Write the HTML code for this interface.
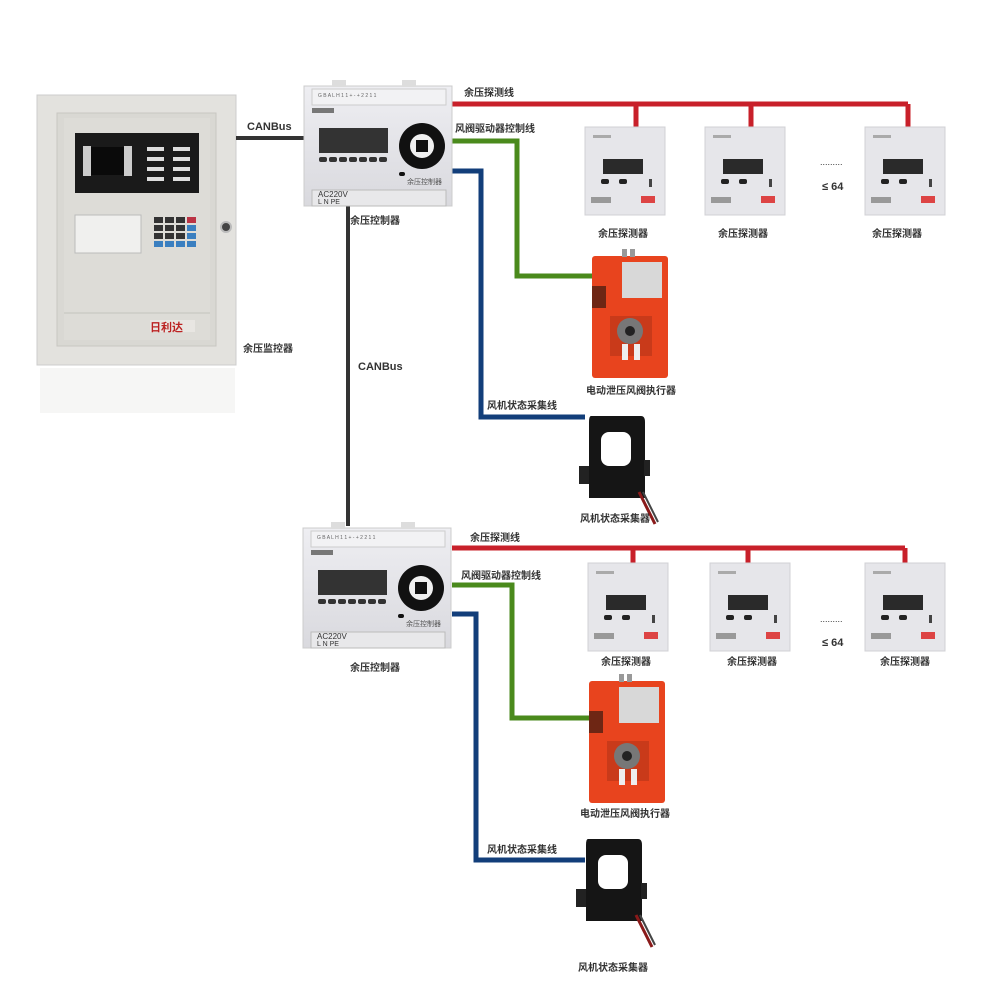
<!DOCTYPE html>
<html><head><meta charset="utf-8"><style>
html,body{margin:0;padding:0;background:#fff;width:1000px;height:982px;overflow:hidden}
svg{display:block}
text{font-family:"Liberation Sans","Noto Sans CJK SC",sans-serif;fill:#333}
.l{font-size:11px;font-weight:bold}
</style></head><body>
<svg width="1000" height="982" viewBox="0 0 1000 982" xmlns="http://www.w3.org/2000/svg">
<defs>
<linearGradient id="ctl" x1="0" y1="0" x2="0" y2="1"><stop offset="0" stop-color="#eeeef2"/><stop offset="1" stop-color="#d9d9de"/></linearGradient>
<g id="det">
<rect x="0" y="0" width="80" height="88" fill="#e6e6ea" stroke="#d0d0d4"/>
<rect x="18" y="32" width="40" height="15" fill="#2a2a2a"/>
<rect x="16" y="52" width="8" height="5" rx="2" fill="#222"/>
<rect x="34" y="52" width="8" height="5" rx="2" fill="#222"/>
<rect x="64" y="52" width="3" height="8" fill="#444"/>
<rect x="6" y="70" width="20" height="6" fill="#999"/>
<rect x="56" y="69" width="14" height="7" fill="#d44"/>
<rect x="8" y="8" width="18" height="3" fill="#aaa"/>
</g>
<g id="ctrl">
<rect x="0" y="0" width="148" height="120" fill="url(#ctl)" stroke="#ccc"/>
<rect x="28" y="-6" width="14" height="7" fill="#ddd"/><rect x="98" y="-6" width="14" height="7" fill="#ddd"/>
<rect x="8" y="3" width="134" height="16" fill="#f2f2f4" stroke="#ccc"/>
<rect x="8" y="22" width="22" height="5" fill="#777"/>
<rect x="15" y="42" width="69" height="25" fill="#333"/>
<g fill="#333"><rect x="15" y="71" width="8" height="5" rx="2"/><rect x="25" y="71" width="8" height="5" rx="2"/><rect x="35" y="71" width="8" height="5" rx="2"/><rect x="45" y="71" width="8" height="5" rx="2"/><rect x="55" y="71" width="8" height="5" rx="2"/><rect x="65" y="71" width="8" height="5" rx="2"/><rect x="75" y="71" width="8" height="5" rx="2"/></g>
<circle cx="118" cy="60" r="23" fill="#111"/><circle cx="118" cy="60" r="12" fill="#f0f0f0"/><rect x="112" y="54" width="12" height="12" fill="#111"/>
<rect x="95" y="86" width="6" height="4" rx="2" fill="#111"/>
<rect x="8" y="104" width="134" height="16" fill="#e8e8ea" stroke="#bbb"/>
<text x="14" y="111" style="font-size:8px">AC220V</text><text x="14" y="118" style="font-size:7px">L  N  PE</text>
<text x="103" y="98" style="font-size:7px;fill:#555">余压控制器</text>
<text x="14" y="11" style="font-size:5px;fill:#666">G B A   L H   1 1 + - + 2 2 1 1</text>
</g>
<g id="act">
<rect x="0" y="0" width="76" height="122" rx="3" fill="#e8441e"/>
<rect x="30" y="-7" width="5" height="8" fill="#999"/><rect x="38" y="-7" width="5" height="8" fill="#999"/>
<rect x="30" y="6" width="40" height="36" fill="#d8d8d8"/>
<rect x="0" y="30" width="14" height="22" fill="#3a1a10" opacity=".7"/>
<rect x="18" y="60" width="42" height="40" fill="#c93a1a"/>
<circle cx="38" cy="75" r="13" fill="#777"/><circle cx="38" cy="75" r="5" fill="#222"/>
<rect x="30" y="88" width="6" height="16" fill="#eee"/><rect x="42" y="88" width="6" height="16" fill="#eee"/>
</g>
<g id="ct">
<path d="M8 0 H58 Q62 0 62 6 V82 H6 V6 Q6 0 8 0Z" fill="#151515"/>
<rect x="-4" y="50" width="10" height="18" fill="#222"/><rect x="61" y="44" width="6" height="16" fill="#222"/>
<rect x="18" y="16" width="30" height="34" rx="8" fill="#fff"/>
<path d="M56 76 L72 108" stroke="#8a1a1a" stroke-width="3"/>
<path d="M60 76 L75 106" stroke="#444" stroke-width="2"/>
</g>
</defs>

<!-- cabinet -->
<rect x="37" y="95" width="199" height="270" fill="#e3e2de" stroke="#ccc"/>
<rect x="57" y="113" width="159" height="233" fill="#d9d8d3" stroke="#c8c7c2"/>
<rect x="64" y="118" width="146" height="222" fill="#dddcd7"/>
<rect x="75" y="133" width="124" height="60" fill="#1a1a1a"/>
<rect x="83" y="146" width="8" height="30" fill="#ccc"/><rect x="124" y="146" width="8" height="30" fill="#ccc"/><rect x="91" y="147" width="33" height="28" fill="#0a0a0a"/>
<g fill="#ddd"><rect x="147" y="147" width="17" height="4"/><rect x="173" y="147" width="17" height="4"/><rect x="147" y="157" width="17" height="4"/><rect x="173" y="157" width="17" height="4"/><rect x="147" y="167" width="17" height="4"/><rect x="173" y="167" width="17" height="4"/><rect x="147" y="177" width="17" height="4"/><rect x="173" y="177" width="17" height="4"/></g>
<rect x="75" y="215" width="66" height="38" fill="#f0f0ee" stroke="#bbb"/>
<g fill="#333"><rect x="154" y="217" width="9" height="6"/><rect x="165" y="217" width="9" height="6"/><rect x="176" y="217" width="9" height="6"/><rect x="154" y="225" width="9" height="6"/><rect x="165" y="225" width="9" height="6"/><rect x="176" y="225" width="9" height="6"/><rect x="154" y="233" width="9" height="6"/><rect x="165" y="233" width="9" height="6"/><rect x="176" y="233" width="9" height="6"/></g>
<g fill="#3a7fc0"><rect x="187" y="225" width="9" height="6"/><rect x="187" y="233" width="9" height="6"/><rect x="154" y="241" width="9" height="6"/><rect x="165" y="241" width="9" height="6"/><rect x="176" y="241" width="9" height="6"/><rect x="187" y="241" width="9" height="6"/></g>
<rect x="187" y="217" width="9" height="6" fill="#b34"/>
<line x1="64" y1="313" x2="210" y2="313" stroke="#c4c3be"/>
<rect x="150" y="320" width="45" height="12" fill="#e8e6e2"/><text x="150" y="331" style="font-size:11px;fill:#b22;font-weight:bold">日利达</text>
<circle cx="226" cy="227" r="5" fill="#444" stroke="#bbb" stroke-width="2"/>
<rect x="40" y="368" width="195" height="45" fill="#f6f6f5"/>

<!-- connections group 1 -->
<line x1="236" y1="138" x2="305" y2="138" stroke="#333" stroke-width="4"/>
<line x1="348" y1="205" x2="348" y2="526" stroke="#333" stroke-width="4"/>
<polyline points="452,104 908,104" fill="none" stroke="#c8202a" stroke-width="5"/>
<g stroke="#c8202a" stroke-width="5"><line x1="636" y1="104" x2="636" y2="128"/><line x1="751" y1="104" x2="751" y2="128"/><line x1="908" y1="104" x2="908" y2="128"/></g>
<polyline points="452,141 517,141 517,276 592,276" fill="none" stroke="#4a8a1c" stroke-width="5"/>
<polyline points="452,171 481,171 481,417 585,417" fill="none" stroke="#123e7a" stroke-width="5"/>
<use href="#ctrl" x="304" y="86"/>
<use href="#det" x="585" y="127"/><use href="#det" x="705" y="127"/><use href="#det" x="865" y="127"/>
<use href="#act" x="592" y="256"/>
<use href="#ct" x="583" y="416"/>
<text class="l" x="247" y="130">CANBus</text>
<text class="l" x="358" y="370">CANBus</text>
<text class="l" x="464" y="96" style="font-size:10px">余压探测线</text>
<text class="l" x="455" y="132" style="font-size:10px">风阀驱动器控制线</text>
<text class="l" x="487" y="409" style="font-size:10px">风机状态采集线</text>
<text class="l" x="350" y="224" style="font-size:10px">余压控制器</text>
<text class="l" x="243" y="352" style="font-size:10px">余压监控器</text>
<text class="l" x="598" y="237" style="font-size:10px">余压探测器</text>
<text class="l" x="718" y="237" style="font-size:10px">余压探测器</text>
<text class="l" x="872" y="237" style="font-size:10px">余压探测器</text>
<text x="820" y="165" style="font-size:9px">.........</text>
<text x="822" y="190" style="font-size:11px;font-weight:bold">≤ 64</text>
<text class="l" x="586" y="394" style="font-size:10px">电动泄压风阀执行器</text>
<text class="l" x="580" y="522" style="font-size:10px">风机状态采集器</text>

<!-- group 2 -->
<polyline points="452,548 905,548" fill="none" stroke="#c8202a" stroke-width="5"/>
<g stroke="#c8202a" stroke-width="5"><line x1="633" y1="548" x2="633" y2="564"/><line x1="748" y1="548" x2="748" y2="564"/><line x1="905" y1="548" x2="905" y2="564"/></g>
<polyline points="452,585 512,585 512,718 590,718" fill="none" stroke="#4a8a1c" stroke-width="5"/>
<polyline points="452,614 476,614 476,860 585,860" fill="none" stroke="#123e7a" stroke-width="5"/>
<use href="#ctrl" x="303" y="528"/>
<use href="#det" x="588" y="563" transform="translate(0,0)"/><use href="#det" x="710" y="563"/><use href="#det" x="865" y="563"/>
<use href="#act" x="589" y="681"/>
<use href="#ct" x="580" y="839"/>
<text class="l" x="470" y="541" style="font-size:10px">余压探测线</text>
<text class="l" x="461" y="579" style="font-size:10px">风阀驱动器控制线</text>
<text class="l" x="487" y="853" style="font-size:10px">风机状态采集线</text>
<text class="l" x="350" y="671" style="font-size:10px">余压控制器</text>
<text class="l" x="601" y="665" style="font-size:10px">余压探测器</text>
<text class="l" x="727" y="665" style="font-size:10px">余压探测器</text>
<text class="l" x="880" y="665" style="font-size:10px">余压探测器</text>
<text x="820" y="622" style="font-size:9px">.........</text>
<text x="822" y="646" style="font-size:11px;font-weight:bold">≤ 64</text>
<text class="l" x="580" y="817" style="font-size:10px">电动泄压风阀执行器</text>
<text class="l" x="578" y="971" style="font-size:10px">风机状态采集器</text>
</svg>
</body></html>
